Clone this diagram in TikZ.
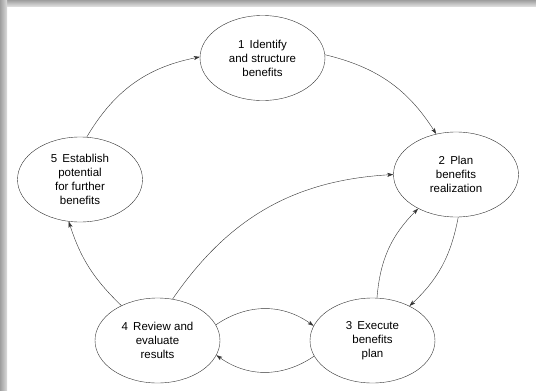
\documentclass[tikz,border=0pt]{standalone}
\usepackage{fontspec}
\setmainfont{Liberation Sans}
\usepackage{tikz}
\usetikzlibrary{arrows.meta,shapes.geometric}
\tikzset{
  >={Stealth[length=6pt,width=4pt,inset=1.5pt]},
  stage/.style={ellipse, draw=black!80, thin, minimum width=125pt, minimum height=85pt,
                inner sep=0pt, align=center, font=\fontsize{11.5}{14}\selectfont},
  flow/.style={draw=black!80, thin, ->}
}
\newcommand{\gap}{\hspace{0.45em}}

\begin{document}
\begin{tikzpicture}[x=1pt,y=-1pt]
    \useasboundingbox (0,0) rectangle (536,391);
    % Draw frame shadow
    \shade[top color=black!38, bottom color=black!14] (0,0) rectangle (536,6);
    \shade[left color=black!38, right color=black!14] (0,0) rectangle (7,391);
    % Draw stages
    \node[stage] (identify) at (262.5,58) {1\gap Identify\\and structure\\benefits};
    \node[stage] (plan) at (456,174.5) {2\gap Plan\\benefits\\realization};
    \node[stage] (execute) at (372.5,340.5) {3\gap Execute\\benefits\\plan};
    \node[stage] (review) at (157.5,340.5) {4\gap Review and\\evaluate\\results};
    \node[stage] (establish) at (80,179.5) {5\gap Establish\\potential\\for further\\benefits};
    % Draw cycle
    \draw[flow] (establish.81) to[bend left=24] (identify.179);
    \draw[flow] (identify.3) to[bend left=22] (plan.116);
    \draw[flow] (plan.-87) to[bend left=18] (execute.43);
    \draw[flow] (execute.84) to[bend left=20] (plan.-138);
    \draw[flow] (review.70) to[bend left=26] (plan.180);
    \draw[flow] (review.15) to[bend left=35] (execute.166);
    \draw[flow] (execute.195) to[bend left=35] (review.-14);
    \draw[flow] (review.136) to[bend left=14] (establish.-105);
\end{tikzpicture}
\end{document}
